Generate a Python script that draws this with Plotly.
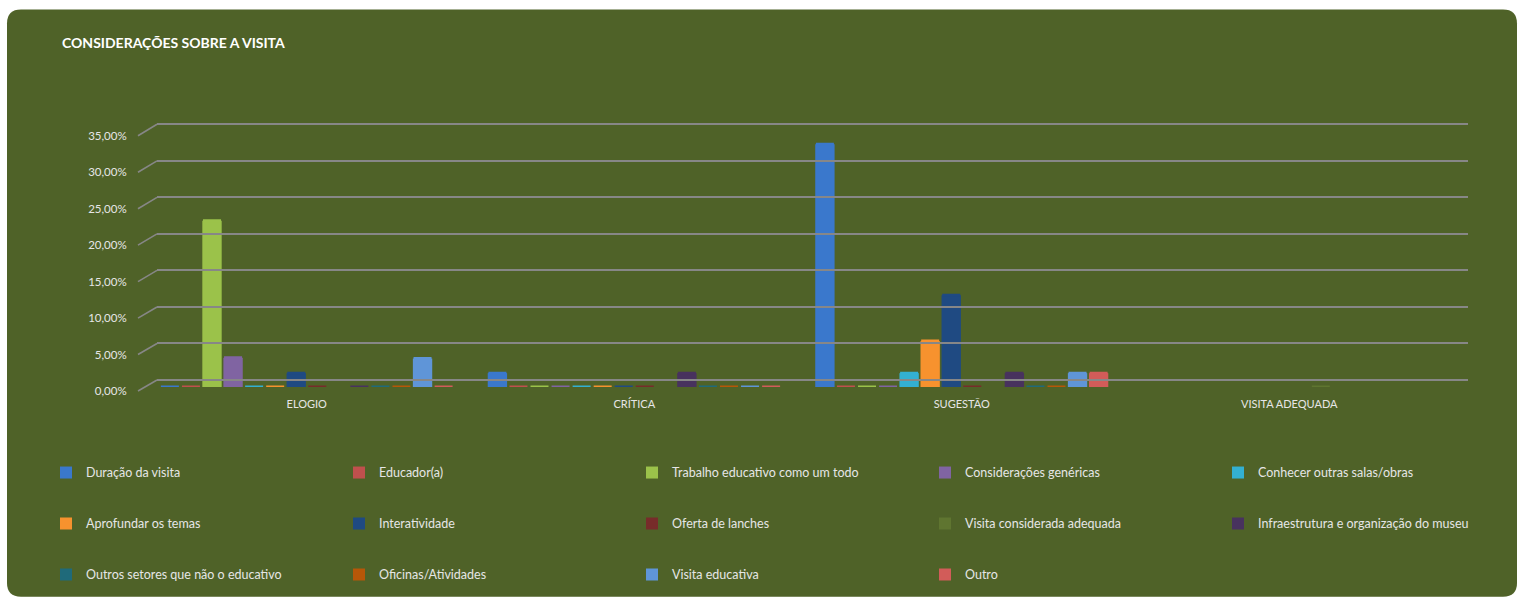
import plotly.graph_objects as go

# Categories and series (percentage of responses)
categories = ["ELOGIO", "CRÍTICA", "SUGESTÃO", "VISITA ADEQUADA"]

series_names = [
    "Duração da visita",
    "Educador(a)",
    "Trabalho educativo como um todo",
    "Considerações genéricas",
    "Conhecer outras salas/obras",
    "Aprofundar os temas",
    "Interatividade",
    "Oferta de lanches",
    "Visita considerada adequada",
    "Infraestrutura e organização do museu",
    "Outros setores que não o educativo",
    "Oficinas/Atividades",
    "Visita educativa",
    "Outro",
]

duracao = [0, 1.9, 33.3, None]
educador = [0, 0, 0, None]
trabalho_educativo = [22.8, 0, 0, None]
consideracoes_genericas = [4.0, 0, 0, None]
conhecer_salas = [0, 0, 1.9, None]
aprofundar_temas = [0, 0, 6.3, None]
interatividade = [1.9, 0, 12.6, None]
oferta_lanches = [0, 0, 0, None]
visita_adequada = [None, None, None, 0]
infraestrutura = [0, 1.9, 1.9, None]
outros_setores = [0, 0, 0, None]
oficinas = [0, 0, 0, None]
visita_educativa = [3.9, 0, 1.9, None]
outro = [0, 0, 1.9, None]

series_values = [
    duracao, educador, trabalho_educativo, consideracoes_genericas,
    conhecer_salas, aprofundar_temas, interatividade, oferta_lanches,
    visita_adequada, infraestrutura, outros_setores, oficinas,
    visita_educativa, outro,
]

colors = [
    "#3A78CC", "#C0504D", "#9BC24A", "#8064A2", "#33B0D2", "#F7922E", "#1F4A82",
    "#772C2A", "#5F7530", "#48325E", "#1F6A7A", "#B65708", "#5F95D8", "#D25C59",
]

Y_STEP = 5
Y_MAX = 35
GRID_HEADROOM = 1       # grid axis runs a little past the top tick so it gets a line

# Page geometry (pixels)
W, H = 1520, 603
BAR_R = 1453            # right edge of the bar (front) plane
BAR_BASE, BAR_TOP = 387, 131.5
GRID_L = 157            # back wall, where the gridlines sit
GRID_BASE, GRID_TOP = 380, 124
LBL_BASE, LBL_TOP = 391, 135.5
GRID_EXT_TOP = GRID_BASE - (Y_MAX + GRID_HEADROOM) * (GRID_BASE - GRID_TOP) / Y_MAX

AREA_L, AREA_R, AREA_T, AREA_B = 143, 1468, GRID_EXT_TOP, LBL_BASE
AW, AH = AREA_R - AREA_L, AREA_B - AREA_T

BG = "#4F6228"
TXT = "#E6E6E6"
GRID = "#878787"
FONT = "Lato, 'Open Sans', sans-serif"


def fx(x):
    return (x - AREA_L) / AW


def fy(y):
    return (AREA_B - y) / AH


fig = go.Figure()

legend_ids = ["legend"] * 5 + ["legend2"] * 5 + ["legend3"] * 4
for name, vals, col, lg in zip(series_names, series_values, colors, legend_ids):
    fig.add_trace(go.Bar(
        x=categories, y=vals, name=name, legend=lg,
        marker=dict(color=col, line=dict(width=0)),
        # zero-valued entries show as a thin floor tile
        error_y=dict(type="constant", value=0, width=9, thickness=3, color=col),
        hovertemplate="%{x}<br>" + name + ": %{y:.2f}%<extra></extra>",
    ))

# Empty helper traces so the back-wall grid axes and the label axis get rendered
for xa, ya in (("x2", "y2"), ("x", "y3")):
    fig.add_trace(go.Scatter(
        x=[None], y=[None], xaxis=xa, yaxis=ya, mode="markers",
        showlegend=False, hoverinfo="skip",
    ))

# Rounded card behind the chart
cx0, cx1, cy0, cy1, r = 7, 1517, 9, 597, 14
path = (
    f"M {fx(cx0 + r)} {fy(cy0)} L {fx(cx1 - r)} {fy(cy0)} "
    f"Q {fx(cx1)} {fy(cy0)} {fx(cx1)} {fy(cy0 + r)} "
    f"L {fx(cx1)} {fy(cy1 - r)} Q {fx(cx1)} {fy(cy1)} {fx(cx1 - r)} {fy(cy1)} "
    f"L {fx(cx0 + r)} {fy(cy1)} Q {fx(cx0)} {fy(cy1)} {fx(cx0)} {fy(cy1 - r)} "
    f"L {fx(cx0)} {fy(cy0 + r)} Q {fx(cx0)} {fy(cy0)} {fx(cx0 + r)} {fy(cy0)} Z"
)
fig.add_shape(type="path", path=path, xref="paper", yref="paper",
              fillcolor=BG, line=dict(width=0), layer="below")

# Slanted connectors from each front tick label to its back-wall gridline
for v in range(0, Y_MAX + 1, Y_STEP):
    y_front = LBL_BASE - v * (LBL_BASE - LBL_TOP) / Y_MAX
    y_back = GRID_BASE - v * (GRID_BASE - GRID_TOP) / Y_MAX
    fig.add_shape(type="line", xref="paper", yref="paper",
                  x0=fx(138), y0=fy(y_front), x1=fx(GRID_L), y1=fy(y_back),
                  line=dict(color=GRID, width=1.6), layer="below")

legend_common = dict(
    orientation="h", xref="paper", yref="paper",
    xanchor="left", yanchor="middle",
    font=dict(family=FONT, size=12.5, color=TXT),
    bgcolor="rgba(0,0,0,0)", borderwidth=0,
    entrywidth=248, entrywidthmode="pixels",
    itemclick=False, itemdoubleclick=False,
)

fig.update_layout(
    width=W, height=H,
    margin=dict(l=AREA_L, r=W - AREA_R, t=AREA_T, b=H - AREA_B, pad=0),
    paper_bgcolor="white",
    plot_bgcolor="rgba(0,0,0,0)",
    separators=",.",
    barmode="group",
    bargap=0.1,
    bargroupgap=0.08,
    font=dict(family=FONT, color=TXT),
    title=dict(
        text="<b>CONSIDERAÇÕES SOBRE A VISITA</b>",
        font=dict(family=FONT, size=14, color="white"),
        xref="container", yref="container",
        x=62 / W, y=1 - 43 / H, xanchor="left", yanchor="middle",
    ),
    # front plane: bars and category labels
    xaxis=dict(
        domain=[0, fx(BAR_R)], anchor="y",
        showgrid=False, showline=False, zeroline=False,
        ticks="outside", ticklen=7, tickcolor="rgba(0,0,0,0)",
        tickfont=dict(family=FONT, size=11, color=TXT),
    ),
    yaxis=dict(
        domain=[fy(BAR_BASE), fy(BAR_TOP)], anchor="x",
        range=[0, Y_MAX], showgrid=False, zeroline=False, showline=False,
        showticklabels=False, ticks="",
    ),
    # back wall: gridlines
    xaxis2=dict(
        domain=[fx(GRID_L), 1], anchor="y2", range=[0, 1],
        showgrid=False, zeroline=False, showline=False,
        showticklabels=False, ticks="",
    ),
    yaxis2=dict(
        domain=[fy(GRID_BASE), 1], anchor="x2",
        range=[0, Y_MAX + GRID_HEADROOM], tick0=0, dtick=Y_STEP,
        showgrid=True, gridcolor=GRID, gridwidth=1.8,
        zeroline=True, zerolinecolor=GRID, zerolinewidth=1.8,
        showline=False, showticklabels=False, ticks="",
    ),
    # value labels
    yaxis3=dict(
        domain=[fy(LBL_BASE), fy(LBL_TOP)], anchor="x",
        range=[0, Y_MAX], tick0=0, dtick=Y_STEP,
        tickformat=".2f", ticksuffix="%",
        showgrid=False, zeroline=False, showline=False,
        ticks="outside", ticklen=13, tickcolor="rgba(0,0,0,0)",
        tickfont=dict(family=FONT, size=11.5, color=TXT),
    ),
    legend=dict(**legend_common, x=fx(46), y=fy(473)),
    legend2=dict(**legend_common, x=fx(46), y=fy(524)),
    legend3=dict(**legend_common, x=fx(46), y=fy(575)),
    showlegend=True,
)

fig.write_html("out.html")
